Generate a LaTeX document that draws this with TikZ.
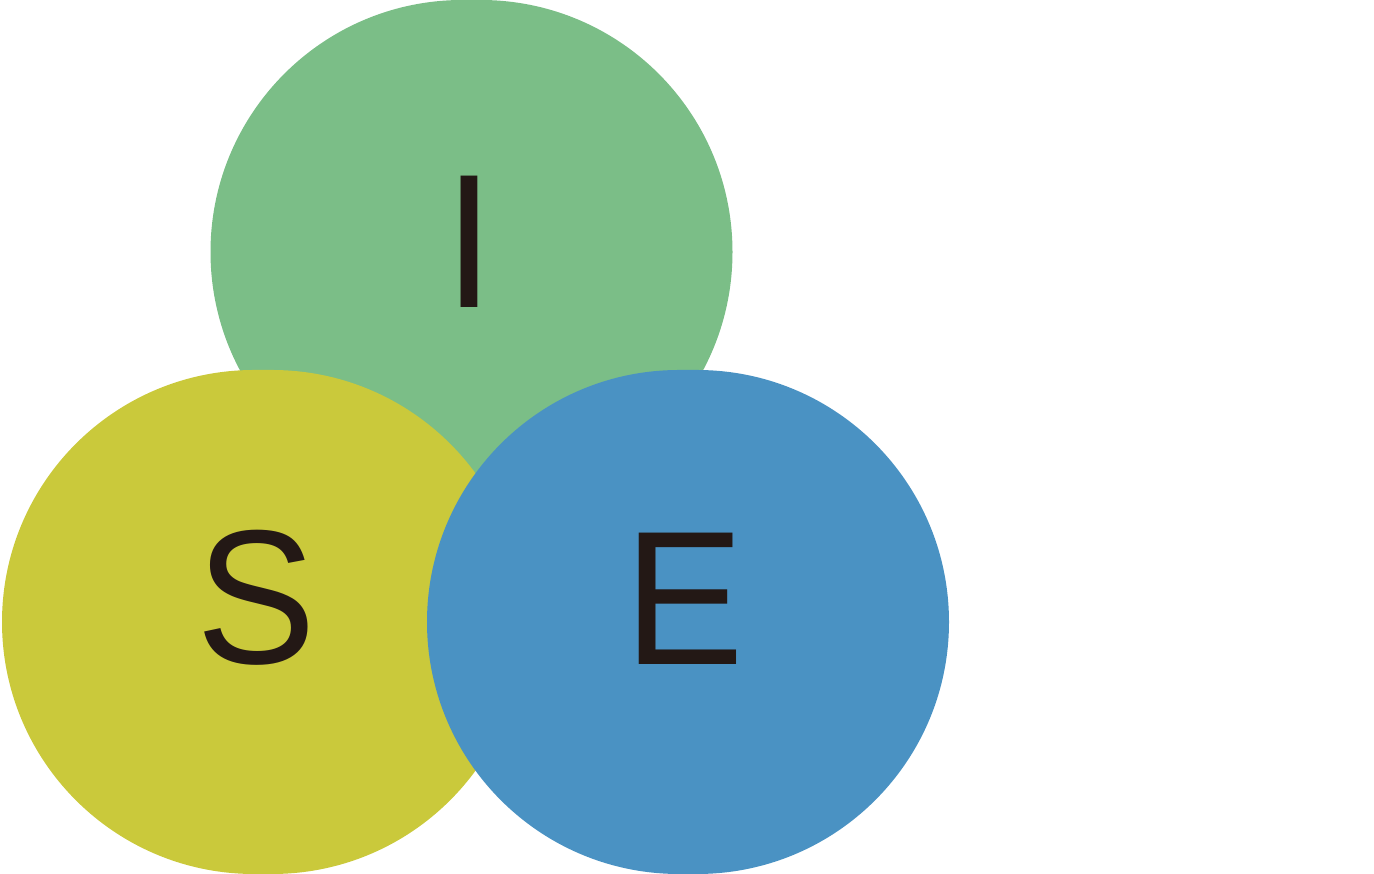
\documentclass[tikz,border=0pt]{standalone}
\usepackage{fontspec}
\setmainfont{Liberation Sans}
\definecolor{ilgreen}{HTML}{7BBE87}
\definecolor{slyellow}{HTML}{CAC93B}
\definecolor{eblue}{HTML}{4A92C3}
\definecolor{letterink}{HTML}{231815}
\tikzset{
  blob/.style={rectangle, rounded corners=252pt, minimum width=522pt,
    minimum height=504pt, inner sep=0pt, draw=none},
  letter/.style={anchor=base, inner sep=0pt, text=letterink,
    transform shape, xscale=0.94,
    font=\fontsize{191pt}{191pt}\selectfont}
}
\begin{document}
\begin{tikzpicture}[x=1pt,y=1pt]
\useasboundingbox (0,0) rectangle (1374,874);
%\draw (0,0) grid (1374,874);
\node[blob, fill=ilgreen] (igroup) at (471.5,622) {};
\node[blob, fill=slyellow] (sgroup) at (263,252) {};
\node[blob, fill=eblue] (egroup) at (688,252) {};

\node[letter] (iletter) at (469,566) {I};
\node[letter] (sletter) at (256,210) {S};
\node[letter] (eletter) at (684,209) {E};
\end{tikzpicture}
\end{document}
